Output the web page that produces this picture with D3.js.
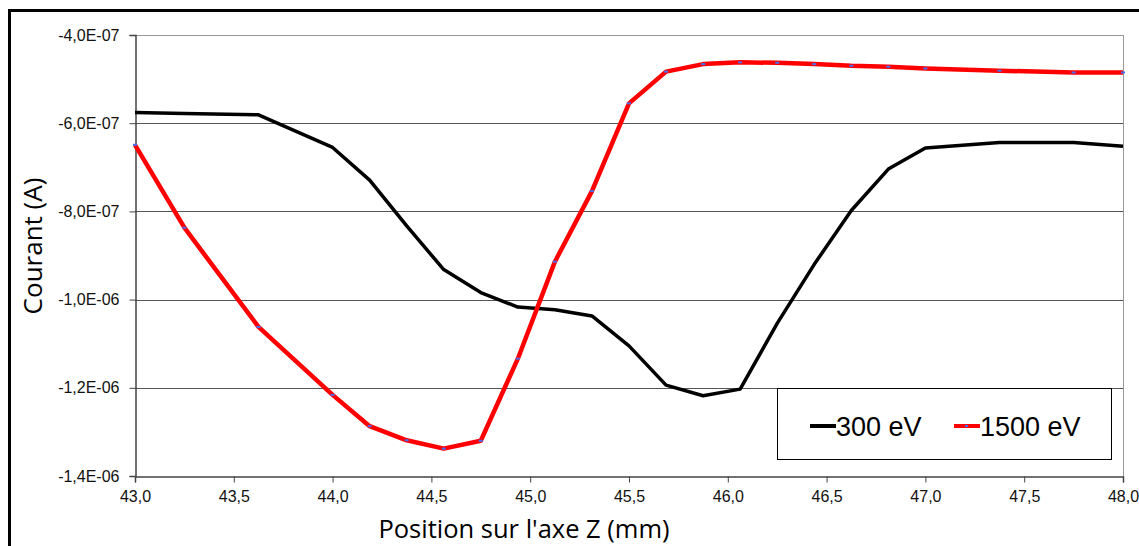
<!DOCTYPE html>
<html><head><meta charset="utf-8">
<script src="https://cdn.jsdelivr.net/npm/d3@7"></script>
<style>body{margin:0;background:#fff;} svg{display:block;}</style>
</head><body>
<svg id="chart" width="1139" height="546"></svg>
<script>
// Data (current in units of 1e-7 A)
const positions = [43.0, 43.25, 43.625, 44.0, 44.1875, 44.375, 44.5625, 44.75, 44.9375, 45.125, 45.3125, 45.5, 45.6875, 45.875, 46.0625, 46.25, 46.4375, 46.625, 46.8125, 47.0, 47.375, 47.75, 48.0];
const current300 = [-5.76, -5.78, -5.81, -6.55, -7.29, -8.33, -9.32, -9.84, -10.17, -10.23, -10.37, -11.05, -11.94, -12.18, -12.03, -10.54, -9.20, -7.98, -7.04, -6.56, -6.44, -6.44, -6.52];
const current1500 = [-6.49, -8.37, -10.62, -12.16, -12.87, -13.19, -13.38, -13.20, -11.34, -9.14, -7.54, -5.55, -4.83, -4.66, -4.62, -4.63, -4.66, -4.70, -4.72, -4.76, -4.81, -4.85, -4.85];
const seriesNames = ["300 eV", "1500 eV"];
const xTicks = [43.0, 43.5, 44.0, 44.5, 45.0, 45.5, 46.0, 46.5, 47.0, 47.5, 48.0];
const yTicks = [-4, -6, -8, -10, -12, -14];
const yTickLabels = ["-4,0E-07", "-6,0E-07", "-8,0E-07", "-1,0E-06", "-1,2E-06", "-1,4E-06"];
const xTitle = "Position sur l'axe Z (mm)";
const yTitle = "Courant (A)";

const svg = d3.select("#chart");
const L = 135, R = 1123, T = 35, B = 476;
const x = d3.scaleLinear().domain([43, 48]).range([L, R]);
const y = d3.scaleLinear().domain([-4, -14]).range([T, B]);

// outer frame
svg.append("rect").attr("x", 9.5).attr("y", 10.5).attr("width", 1200).attr("height", 600)
  .attr("fill", "none").attr("stroke", "#000").attr("stroke-width", 3);

// gridlines
svg.append("g").selectAll("line").data(yTicks.slice(1, 5)).join("line")
  .attr("x1", L).attr("x2", R).attr("y1", d => Math.round(y(d)) + 0.5).attr("y2", d => Math.round(y(d)) + 0.5)
  .attr("stroke", "#555").attr("stroke-width", 1);
// top and right border of plot
svg.append("line").attr("x1", L).attr("x2", R).attr("y1", T + 0.5).attr("y2", T + 0.5).attr("stroke", "#999");
svg.append("line").attr("x1", R + 0.5).attr("x2", R + 0.5).attr("y1", T).attr("y2", B).attr("stroke", "#999");

// axes
const fmtY = d => yTickLabels[yTicks.indexOf(d)];
const yAxis = d3.axisLeft(y).tickValues(yTicks).tickFormat(fmtY).tickSize(6).tickPadding(10);
const gy = svg.append("g").attr("transform", `translate(${L + 0.5},0)`).call(yAxis);
const xAxis = d3.axisBottom(x).tickValues(xTicks).tickFormat(d => d3.format(".1f")(d).replace(".", ",")).tickSize(6).tickPadding(8);
const gx = svg.append("g").attr("transform", `translate(0,${B + 0.5})`).call(xAxis);
[gx, gy].forEach(g => {
  g.select(".domain").attr("stroke", "#444").attr("stroke-width", 1.5);
  g.selectAll(".tick line").attr("stroke", "#444");
  g.selectAll("text").attr("font-family", "Liberation Sans, Arial, sans-serif").attr("font-size", 16).attr("fill", "#111");
});

// lines
const line300 = d3.line().x((d, i) => x(positions[i])).y(d => y(d));
svg.append("path").datum(current300).attr("d", line300)
  .attr("fill", "none").attr("stroke", "#000").attr("stroke-width", 3.5).attr("stroke-linejoin", "round");
svg.append("path").datum(current1500).attr("d", line300)
  .attr("fill", "none").attr("stroke", "#ff0000").attr("stroke-width", 4.5).attr("stroke-linejoin", "round");
svg.append("g").selectAll("rect").data(current1500).join("rect")
  .attr("x", (d, i) => x(positions[i]) - 2).attr("y", d => y(d) - 1).attr("width", 4).attr("height", 2)
  .attr("fill", "#4a6cf0");

// legend
const lg = svg.append("g");
lg.append("rect").attr("x", 777.5).attr("y", 388.5).attr("width", 334).attr("height", 71)
  .attr("fill", "#fff").attr("stroke", "#000").attr("stroke-width", 1);
const legendItems = [{ name: seriesNames[0], color: "#000", x0: 810 }, { name: seriesNames[1], color: "#ff0000", x0: 954 }];
legendItems.forEach(it => {
  lg.append("line").attr("x1", it.x0).attr("x2", it.x0 + 26).attr("y1", 426).attr("y2", 426)
    .attr("stroke", it.color).attr("stroke-width", 4);
  lg.append("text").attr("x", it.x0 + 26).attr("y", 436).text(it.name)
    .attr("font-family", "Liberation Sans, Arial, sans-serif").attr("font-size", 27).attr("fill", "#000");
});
lg.append("rect").attr("x", 965).attr("y", 425).attr("width", 3).attr("height", 2).attr("fill", "#4a6cf0");

// titles
svg.append("text").attr("x", 524).attr("y", 538).attr("text-anchor", "middle").text(xTitle)
  .attr("font-family", "Open Sans, sans-serif").attr("font-size", 25.5).attr("fill", "#000");
svg.append("text").attr("transform", "translate(42,246) rotate(-90)").attr("text-anchor", "middle").text(yTitle)
  .attr("font-family", "Open Sans, sans-serif").attr("font-size", 26).attr("fill", "#000");
</script>
</body></html>
